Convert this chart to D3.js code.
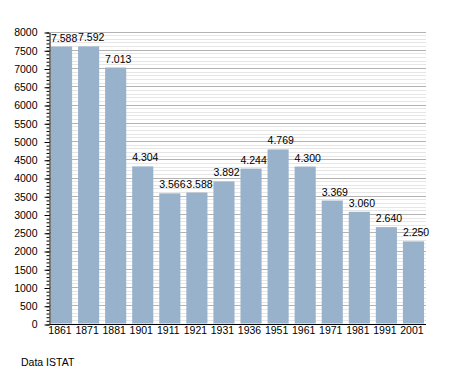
<!DOCTYPE html>
<html>
<head>
<meta charset="utf-8">
<script src="https://cdn.jsdelivr.net/npm/d3@7/dist/d3.min.js"></script>
<style>
  body { margin: 0; background: #fff; }
  text { font-family: "Liberation Sans", Arial, sans-serif; font-size: 10.5px; fill: #000; }
</style>
</head>
<body>
<div id="chart"></div>
<script>
// census years and population
var years = ["1861", "1871", "1881", "1901", "1911", "1921", "1931", "1936", "1951", "1961", "1971", "1981", "1991", "2001"];
var population = [7588, 7592, 7013, 4304, 3566, 3588, 3892, 4244, 4769, 4300, 3369, 3060, 2640, 2250];
var majorTicks = [0, 500, 1000, 1500, 2000, 2500, 3000, 3500, 4000, 4500, 5000, 5500, 6000, 6500, 7000, 7500, 8000];
var source = "Data ISTAT";

//Width and height
var w = 455;
var h = 373;
var plotLeft = 50, plotRight = 426, plotTop = 31.5, plotBottom = 323.5;

var svg = d3.select("#chart")
    .append("svg")
    .attr("width", w)
    .attr("height", h);

var x = d3.scaleBand()
    .domain(years)
    .range([48, 427])
    .paddingInner(0.22)
    .paddingOuter(0.11);

var y = d3.scaleLinear()
    .domain([0, 8000])
    .range([plotBottom, plotTop]);

// crisp pixel position
function py(d) { return Math.round(y(d)) + 0.5; }

//minor grid every 100, major every 500
var minor = d3.range(0, 8001, 100).filter(function(d) { return d % 500 != 0; });

svg.selectAll("line.minor")
  .data(minor)
  .enter()
  .append("line")
  .attr("class", "minor")
  .attr("x1", plotLeft).attr("x2", plotRight)
  .attr("y1", py).attr("y2", py)
  .attr("stroke", "#e6e6e6");

svg.selectAll("line.major")
  .data(majorTicks.filter(function(d) { return d > 0; }))
  .enter()
  .append("line")
  .attr("class", "major")
  .attr("x1", plotLeft).attr("x2", plotRight)
  .attr("y1", py).attr("y2", py)
  .attr("stroke", "#b3b3b3");

//bars
svg.selectAll("rect")
  .data(population)
  .enter()
  .append("rect")
  .attr("x", function(d, i) { return x(years[i]); })
  .attr("y", function(d) { return y(d); })
  .attr("width", x.bandwidth())
  .attr("height", function(d) { return y(0) - y(d); })
  .attr("fill", "rgb(153,178,204)");

//value labels, italian thousands separator
svg.selectAll("text.val")
  .data(population)
  .enter()
  .append("text")
  .attr("class", "val")
  .attr("x", function(d, i) { return x(years[i]); })
  .attr("y", function(d) { return y(d) - 5; })
  .text(function(d) { return d3.format(",")(d).replace(",", "."); });

//y axis: minor ticks every 100, labelled major ticks every 500
var yScalePx = d3.scaleLinear()
    .domain([0, 8000])
    .range([py(0), py(8000)]);

var ga = svg.append("g")
  .attr("transform", "translate(" + (plotLeft - 0.5) + ",0)")
  .call(d3.axisLeft(yScalePx).tickValues(d3.range(0, 8001, 100)).tickSize(3).tickFormat(""));
ga.select(".domain").remove();

var gm = svg.append("g")
  .attr("transform", "translate(" + (plotLeft - 0.5) + ",0)")
  .call(d3.axisLeft(yScalePx).tickValues(majorTicks).tickFormat(d3.format("d"))
    .tickSize(5).tickPadding(7).tickSizeOuter(0));

svg.selectAll(".tick line").attr("stroke", "#000");
gm.select(".domain").attr("stroke", "#000");
gm.selectAll("text").attr("font-family", null).attr("font-size", null);

//x axis
svg.append("line")
  .attr("x1", plotLeft - 0.5).attr("x2", plotRight)
  .attr("y1", py(0)).attr("y2", py(0))
  .attr("stroke", "#000");

svg.selectAll("text.year")
  .data(years)
  .enter()
  .append("text")
  .attr("class", "year")
  .attr("x", function(d) { return x(d) + x.bandwidth() / 2 - 1.5; })
  .attr("y", 334)
  .attr("text-anchor", "middle")
  .text(function(d) { return d; });

svg.append("text")
  .attr("x", 21)
  .attr("y", 366)
  .text(source);
</script>
</body>
</html>
